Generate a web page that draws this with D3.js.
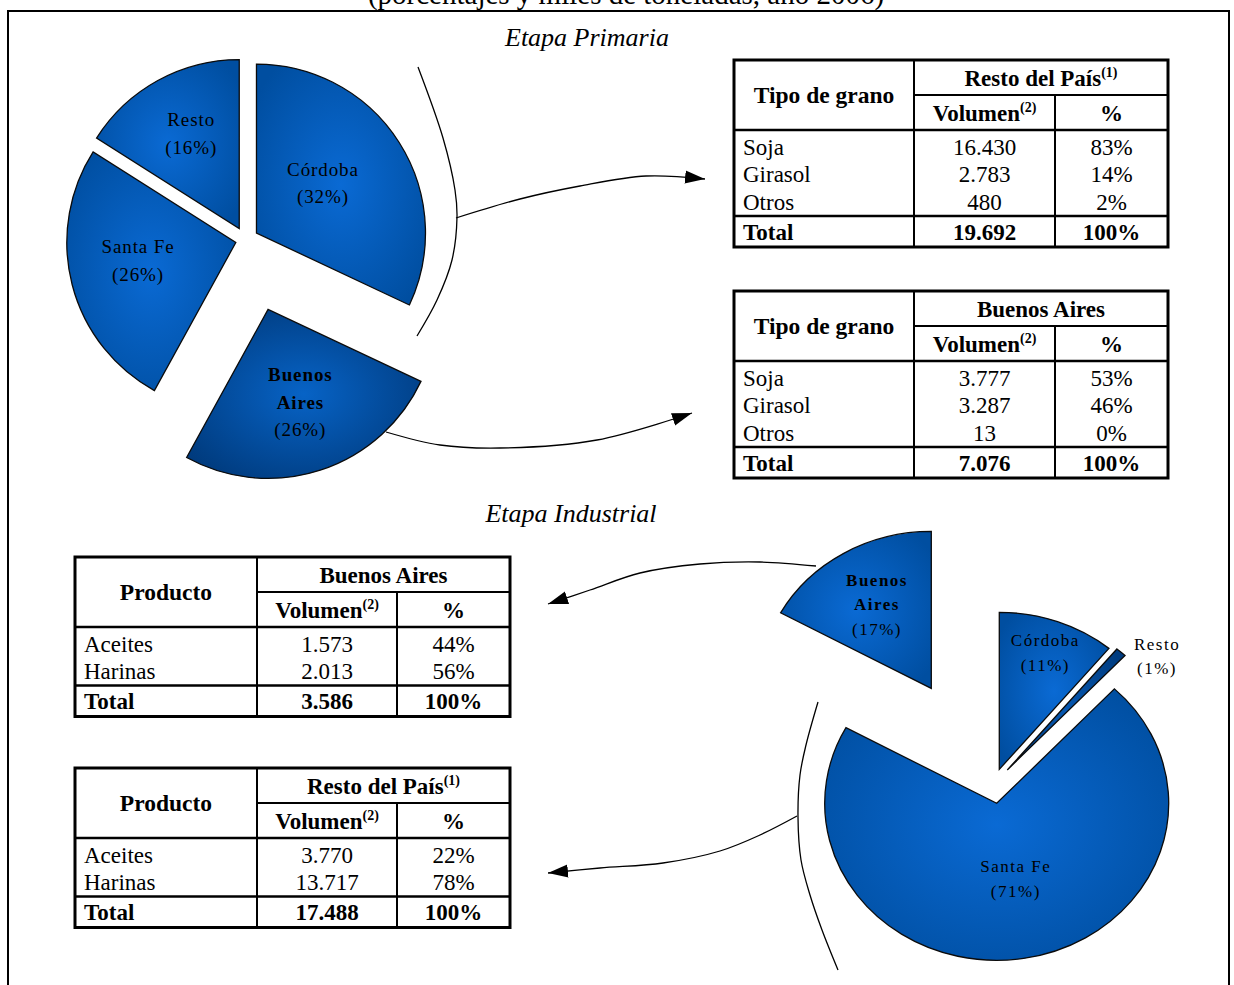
<!DOCTYPE html>
<html>
<head>
<meta charset="utf-8">
<script src="https://cdn.jsdelivr.net/npm/d3@7"></script>
<style>
  body { margin: 0; background: #fff; }
  svg { display: block; }
</style>
</head>
<body>
<svg id="chart" width="1234" height="985"></svg>
<script>
// ---- Etapa primaria: participación por provincia (%) ----
const primRegions = ["Córdoba", "Buenos Aires", "Santa Fe", "Resto"];
const primShares = [32, 26, 26, 16];

// ---- Etapa industrial: participación por provincia (%) ----
const indRegions = ["Córdoba", "Resto", "Santa Fe", "Buenos Aires"];
const indShares = [11, 1, 71, 17];

// ---- Granos (miles de toneladas) ----
const granos = ["Soja", "Girasol", "Otros"];
const restoGranoVol = [16430, 2783, 480];
const restoGranoPct = [83, 14, 2];
const restoGranoTotal = 19692;
const baGranoVol = [3777, 3287, 13];
const baGranoPct = [53, 46, 0];
const baGranoTotal = 7076;

// ---- Productos industriales (miles de toneladas) ----
const productos = ["Aceites", "Harinas"];
const baProdVol = [1573, 2013];
const baProdPct = [44, 56];
const baProdTotal = 3586;
const restoProdVol = [3770, 13717];
const restoProdPct = [22, 78];
const restoProdTotal = 17488;

const SERIF = "'Liberation Serif', 'Times New Roman', Times, serif";
const es = d3.formatLocale({ decimal: ",", thousands: ".", grouping: [3], currency: ["$", ""] });
const fmtVol = es.format(",d");
const fmtPct = v => v + "%";

const svg = d3.select("#chart");
const W = 1234, H = 985;
svg.append("rect").attr("width", W).attr("height", H).attr("fill", "#fff");

// ---- defs: slice shading and arrowheads ----
const defs = svg.append("defs");
function radial(id, inner, outer) {
  const g = defs.append("radialGradient").attr("id", id)
    .attr("cx", "50%").attr("cy", "50%").attr("r", "62%");
  g.append("stop").attr("offset", "0%").attr("stop-color", inner);
  g.append("stop").attr("offset", "100%").attr("stop-color", outer);
}
radial("blue", "#0a6ad4", "#004ea0");
radial("blueDark", "#0763c6", "#003a7c");
radial("blueThin", "#0657b0", "#003c80");

defs.append("marker").attr("id", "arrow")
  .attr("markerUnits", "userSpaceOnUse")
  .attr("viewBox", "0 -7 20 14")
  .attr("refX", 20).attr("refY", 0)
  .attr("markerWidth", 20).attr("markerHeight", 14)
  .attr("orient", "auto")
  .append("path").attr("d", "M0,-6.5L20,0L0,6.5Z").attr("fill", "#000");

// ---- frame and headings ----
svg.append("text").attr("x", 626).attr("y", 4)
  .attr("text-anchor", "middle").attr("font-family", SERIF).attr("font-size", 29)
  .text("(porcentajes y miles de toneladas, año 2006)");
svg.append("path").attr("d", `M8,${H} V11 H1229 V${H}`)
  .attr("fill", "none").attr("stroke", "#000").attr("stroke-width", 2);

svg.append("text").attr("x", 587).attr("y", 46)
  .attr("text-anchor", "middle").attr("font-family", SERIF)
  .attr("font-style", "italic").attr("font-size", 26).text("Etapa Primaria");
svg.append("text").attr("x", 571).attr("y", 522)
  .attr("text-anchor", "middle").attr("font-family", SERIF)
  .attr("font-style", "italic").attr("font-size", 26).text("Etapa Industrial");

// ---- exploded pie ----
function drawPie(cfg) {
  const data = cfg.regions.map((name, i) => ({ name, share: cfg.shares[i] }));
  const arcs = d3.pie().sort(null).value(d => d.share)(data);
  const arc = d3.arc().innerRadius(0).outerRadius(cfg.r);
  const g = svg.append("g")
    .attr("transform", `translate(${cfg.cx},${cfg.cy}) scale(1,${cfg.ky})`);

  arcs.forEach((a, i) => {
    const mid = (a.startAngle + a.endAngle) / 2;
    const sx = Math.sin(mid), sy = -Math.cos(mid);
    const ox = cfg.explode[i] * sx, oy = cfg.explode[i] * sy;
    g.append("path")
      .attr("d", arc(a))
      .attr("transform", `translate(${ox},${oy})`)
      .attr("fill", `url(#${cfg.fills[i]})`)
      .attr("stroke", "#0b0b0b").attr("stroke-width", 1.3)
      .attr("vector-effect", "non-scaling-stroke");

    // label anchored along the slice bisector
    const f = cfg.labelFrac[i];
    const lx = cfg.cx + ox + f * cfg.r * sx + cfg.nudge[i][0];
    const ly = cfg.cy + (oy + f * cfg.r * sy) * cfg.ky + cfg.nudge[i][1];
    const bold = cfg.boldName[i];
    const lines = (bold ? a.data.name.split(" ") : [a.data.name]).map(t => ({ t, bold }));
    lines.push({ t: `(${a.data.share}%)`, bold: false });
    const y0 = ly - (lines.length - 1) * cfg.lineH / 2 + 0.33 * cfg.fontSize;
    const txt = svg.append("text")
      .attr("font-family", SERIF).attr("font-size", cfg.fontSize)
      .attr("letter-spacing", cfg.spacing).attr("text-anchor", "middle").attr("fill", "#000");
    lines.forEach((ln, k) => {
      txt.append("tspan").attr("x", lx).attr("y", y0 + k * cfg.lineH)
        .attr("font-weight", ln.bold ? "bold" : "normal").text(ln.t);
    });
  });
}

drawPie({
  regions: primRegions, shares: primShares,
  cx: 245.5, cy: 240, r: 169, ky: 1,
  explode: [13, 73, 10, 13],
  fills: ["blue", "blueDark", "blue", "blue"],
  labelFrac: [0.55, 0.58, 0.53, 0.627],
  nudge: [[-12, 0], [2, 0], [-11, -4], [3, -2]],
  boldName: [false, true, false, false],
  fontSize: 19, spacing: 0.9, lineH: 27.5
});

drawPie({
  regions: indRegions, shares: indShares,
  cx: 993.4, cy: 784.3, r: 172, ky: 157 / 172,
  explode: [17.4, 21, 21.1, 122],
  fills: ["blue", "blueThin", "blue", "blue"],
  labelFrac: [0.79, 1.0, 0.488, 0.62],
  nudge: [[0, 0], [36, 4], [6, 0], [0, 0]],
  boldName: [false, false, false, true],
  fontSize: 17, spacing: 1.5, lineH: 24.5
});

// ---- connectors ----
const curve = d3.line().curve(d3.curveCatmullRom.alpha(0.5));
function connector(points, arrow) {
  svg.append("path").attr("d", curve(points))
    .attr("fill", "none").attr("stroke", "#000").attr("stroke-width", 1.3)
    .attr("marker-end", arrow ? "url(#arrow)" : null);
}
connector([[418, 67], [443, 138], [455, 190], [457, 217], [452, 260], [437, 300], [417, 336]], false);
connector([[456, 218], [520, 199], [580, 186], [646, 176], [705, 179]], true);
connector([[386, 432], [440, 445], [500, 448], [597, 440], [692, 413]], true);
connector([[818, 702], [806, 745], [800, 775], [798, 817], [801, 860], [810, 895], [822, 930], [838, 970]], false);
connector([[816, 566], [760, 562], [700, 564], [640, 573], [590, 590], [548, 604]], true);
connector([[797, 816], [760, 835], [720, 851], [663, 863], [600, 868], [548, 873]], true);

// ---- tables ----
function drawTable(cfg) {
  const g = svg.append("g").attr("font-family", SERIF).attr("font-size", 23).attr("fill", "#000");
  const xs = [cfg.x];
  cfg.colW.forEach(w => xs.push(xs[xs.length - 1] + w));
  const y0 = cfg.y;
  const y1 = y0 + 35;                       // below group header
  const y2 = y1 + 35;                       // below column headers
  const rowH = 27.5;
  const y3 = y2 + cfg.rows.length * rowH + 3.5; // above total
  const y4 = y3 + 31;                       // bottom

  const line = (xa, ya, xb, yb, w) => g.append("line")
    .attr("x1", xa).attr("y1", ya).attr("x2", xb).attr("y2", yb)
    .attr("stroke", "#000").attr("stroke-width", w);

  line(xs[1], y1, xs[3], y1, 2);
  line(xs[0], y2, xs[3], y2, 2.5);
  line(xs[0], y3, xs[3], y3, 2.5);
  line(xs[1], y0, xs[1], y4, 2);
  line(xs[2], y1, xs[2], y4, 2);
  g.append("rect").attr("x", xs[0]).attr("y", y0)
    .attr("width", xs[3] - xs[0]).attr("height", y4 - y0)
    .attr("fill", "none").attr("stroke", "#000").attr("stroke-width", 3);

  const cx = [(xs[0] + xs[1]) / 2, (xs[1] + xs[2]) / 2, (xs[2] + xs[3]) / 2];
  const base = (ya, yb) => (ya + yb) / 2 + 8;

  g.append("text").attr("x", cx[0]).attr("y", base(y0, y2)).attr("text-anchor", "middle")
    .attr("font-weight", "bold").attr("font-size", 23.5).text(cfg.firstHead);

  const gh = g.append("text").attr("x", (xs[1] + xs[3]) / 2).attr("y", base(y0, y1))
    .attr("text-anchor", "middle").attr("font-weight", "bold");
  gh.append("tspan").text(cfg.groupHead);
  if (cfg.groupSup) gh.append("tspan").attr("font-size", 14).attr("dy", -9).text(cfg.groupSup);

  const vh = g.append("text").attr("x", cx[1]).attr("y", base(y1, y2))
    .attr("text-anchor", "middle").attr("font-weight", "bold");
  vh.append("tspan").text("Volumen");
  vh.append("tspan").attr("font-size", 14).attr("dy", -9).text("(2)");
  g.append("text").attr("x", cx[2]).attr("y", base(y1, y2)).attr("text-anchor", "middle")
    .attr("font-weight", "bold").text("%");

  cfg.rows.forEach((r, i) => {
    const by = y2 + 24.5 + i * rowH;
    g.append("text").attr("x", xs[0] + 9).attr("y", by).text(r);
    g.append("text").attr("x", cx[1]).attr("y", by).attr("text-anchor", "middle").text(fmtVol(cfg.vols[i]));
    g.append("text").attr("x", cx[2]).attr("y", by).attr("text-anchor", "middle").text(fmtPct(cfg.pcts[i]));
  });

  const ty = base(y3, y4);
  g.append("text").attr("x", xs[0] + 9).attr("y", ty).attr("font-weight", "bold").text("Total");
  g.append("text").attr("x", cx[1]).attr("y", ty).attr("text-anchor", "middle")
    .attr("font-weight", "bold").text(fmtVol(cfg.total));
  g.append("text").attr("x", cx[2]).attr("y", ty).attr("text-anchor", "middle")
    .attr("font-weight", "bold").text("100%");
}

drawTable({ x: 734, y: 60, colW: [180, 141, 113], firstHead: "Tipo de grano",
  groupHead: "Resto del País", groupSup: "(1)",
  rows: granos, vols: restoGranoVol, pcts: restoGranoPct, total: restoGranoTotal });
drawTable({ x: 734, y: 291, colW: [180, 141, 113], firstHead: "Tipo de grano",
  groupHead: "Buenos Aires", groupSup: null,
  rows: granos, vols: baGranoVol, pcts: baGranoPct, total: baGranoTotal });
drawTable({ x: 75, y: 557, colW: [182, 140, 113], firstHead: "Producto",
  groupHead: "Buenos Aires", groupSup: null,
  rows: productos, vols: baProdVol, pcts: baProdPct, total: baProdTotal });
drawTable({ x: 75, y: 768, colW: [182, 140, 113], firstHead: "Producto",
  groupHead: "Resto del País", groupSup: "(1)",
  rows: productos, vols: restoProdVol, pcts: restoProdPct, total: restoProdTotal });
</script>
</body>
</html>
